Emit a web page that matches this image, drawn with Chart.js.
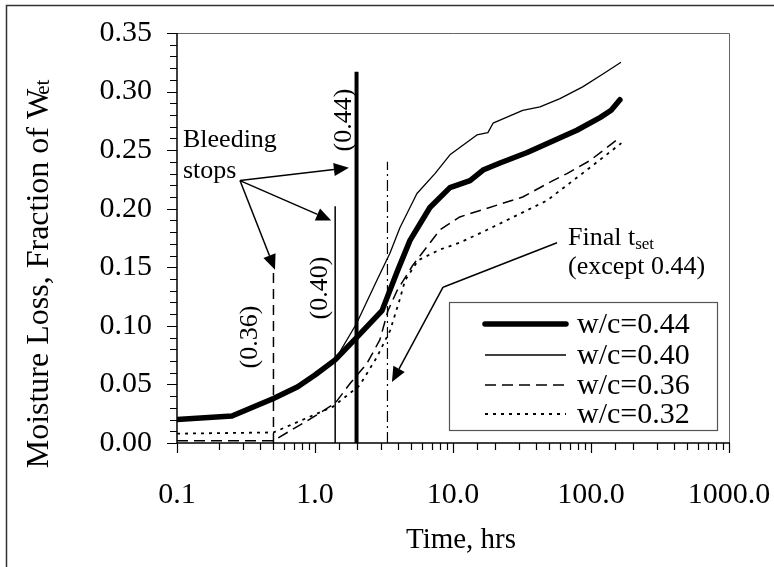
<!DOCTYPE html>
<html>
<head>
<meta charset="utf-8">
<script src="https://cdn.jsdelivr.net/npm/chart.js@4.4.0/dist/chart.umd.min.js"></script>
<style>
  html, body { margin: 0; padding: 0; background: #fff; }
</style>
</head>
<body>
<canvas id="grafico" width="774" height="567"></canvas>
<script>
// valores (tempo em horas, perda como fração de W_et)
const time044 = [0.1, 0.25, 0.5, 0.75, 1.0, 1.4, 2.0, 3.06, 3.93, 4.88, 6.8, 9.5, 13.3, 16.5, 21.9, 34.5, 79, 117, 140, 162];
const loss044 = [0.020, 0.023, 0.038, 0.048, 0.058, 0.071, 0.090, 0.113, 0.146, 0.173, 0.201, 0.218, 0.224, 0.233, 0.239, 0.248, 0.267, 0.278, 0.284, 0.293];

const time040 = [0.1, 0.25, 0.5, 0.75, 1.0, 1.4, 2.0, 2.81, 3.49, 4.13, 5.48, 7.4, 9.5, 14.9, 17.9, 19.5, 32, 42.7, 59.6, 87, 122, 165];
const loss040 = [0.020, 0.023, 0.038, 0.048, 0.058, 0.071, 0.102, 0.139, 0.162, 0.184, 0.213, 0.230, 0.246, 0.263, 0.265, 0.273, 0.284, 0.287, 0.294, 0.304, 0.315, 0.325];

const time036 = [0.1, 0.5, 0.97, 1.4, 1.8, 2.38, 2.95, 3.38, 3.93, 5.13, 8.05, 11.2, 32, 53, 67, 98, 155];
const loss036 = [0.002, 0.002, 0.022, 0.034, 0.051, 0.068, 0.088, 0.113, 0.130, 0.152, 0.182, 0.193, 0.210, 0.224, 0.230, 0.241, 0.259];

const time032 = [0.1, 0.5, 1.35, 2.1, 2.8, 3.5, 4.1, 4.5, 5.6, 8.0, 11.2, 17.7, 48, 98, 166];
const loss032 = [0.008, 0.009, 0.031, 0.049, 0.073, 0.096, 0.122, 0.139, 0.156, 0.165, 0.171, 0.182, 0.207, 0.235, 0.256];

const seriesLabels = ['w/c=0.44', 'w/c=0.40', 'w/c=0.36', 'w/c=0.32'];

// fim da exsudação (0.36, 0.40, 0.44) e t_set final
const bleedTimes = [0.5, 1.4, 2.0];
const bleedTops  = [0.152, 0.202, 0.317];
const setTimes = [3.35];
const setTops  = [0.240];

const xTickLabels = ['0.1', '1.0', '10.0', '100.0', '1000.0'];
const yTickLabels = ['0.00', '0.05', '0.10', '0.15', '0.20', '0.25', '0.30', '0.35'];

const FONTE = "'Liberation Serif', 'Times New Roman', serif";

// estilos de cada curva
const estilos = [
  { w: 5.5, dash: [] },
  { w: 1.3, dash: [] },
  { w: 1.5, dash: [11, 6] },
  { w: 1.8, dash: [3, 5] }
];

const pts = (xs, ys) => xs.map((x, i) => ({ x: x, y: ys[i] }));
const series = [pts(time044, loss044), pts(time040, loss040), pts(time036, loss036), pts(time032, loss032)];

const datasets = series.map((d, i) => ({
  label: seriesLabels[i],
  data: d,
  borderColor: '#000',
  borderWidth: estilos[i].w,
  borderDash: estilos[i].dash,
  borderJoinStyle: 'round',
  borderCapStyle: i === 0 ? 'round' : 'butt',
  pointRadius: 0,
  showLine: true,
  tension: 0
}));

// linhas verticais
const vertEstilos = [
  { w: 1.5, dash: [10, 6] },
  { w: 1.5, dash: [] },
  { w: 4, dash: [] }
];
bleedTimes.forEach((t, i) => {
  datasets.push({
    data: [{ x: t, y: 0 }, { x: t, y: bleedTops[i] }],
    borderColor: '#000', borderWidth: vertEstilos[i].w, borderDash: vertEstilos[i].dash,
    pointRadius: 0, showLine: true
  });
});
setTimes.forEach((t, i) => {
  datasets.push({
    data: [{ x: t, y: 0 }, { x: t, y: setTops[i] }],
    borderColor: '#000', borderWidth: 1.2, borderDash: [11, 4, 2, 4],
    pointRadius: 0, showLine: true
  });
});

// anotações (em unidades dos dados)
const setaBleedDe = [0.286, 0.224];
const setaBleedPara = [[1.76, 0.235], [1.31, 0.190], [0.513, 0.148]];
const setaFinal = [[56.7, 0.171], [8.47, 0.133], [3.61, 0.052]];

const ehDecada = v => Math.abs(Math.log10(v) - Math.round(Math.log10(v))) < 1e-6;
const ehMaiorY = v => Math.abs(v * 20 - Math.round(v * 20)) < 1e-6;

function seta(ctx, x1, y1, x2, y2) {
  const ang = Math.atan2(y2 - y1, x2 - x1);
  const L = 15, W = 6.5;
  const bx = x2 - L * Math.cos(ang), by = y2 - L * Math.sin(ang);
  ctx.beginPath();
  ctx.moveTo(x1, y1);
  ctx.lineTo(bx, by);
  ctx.stroke();
  ctx.beginPath();
  ctx.moveTo(x2, y2);
  ctx.lineTo(bx + W * Math.sin(ang), by - W * Math.cos(ang));
  ctx.lineTo(bx - W * Math.sin(ang), by + W * Math.cos(ang));
  ctx.closePath();
  ctx.fill();
}

function textoVertical(ctx, txt, x, y, size) {
  ctx.save();
  ctx.translate(x, y);
  ctx.rotate(-Math.PI / 2);
  ctx.font = size + 'px ' + FONTE;
  ctx.textAlign = 'center';
  ctx.textBaseline = 'middle';
  ctx.fillText(txt, 0, 0);
  ctx.restore();
}

const desenhos = {
  id: 'desenhos',
  beforeDraw(chart) {
    const ctx = chart.ctx;
    ctx.save();
    ctx.fillStyle = '#fff';
    ctx.fillRect(0, 0, chart.width, chart.height);
    ctx.restore();
  },
  afterDraw(chart) {
    const ctx = chart.ctx;
    const xs = chart.scales.x, ys = chart.scales.y;
    const a = chart.chartArea;
    const P = (x, y) => [xs.getPixelForValue(x), ys.getPixelForValue(y)];
    ctx.save();
    ctx.strokeStyle = '#000';
    ctx.fillStyle = '#000';
    ctx.setLineDash([]);

    // moldura
    ctx.lineWidth = 1;
    ctx.strokeStyle = '#666';
    ctx.beginPath();
    ctx.moveTo(a.left, a.top + 0.5);
    ctx.lineTo(a.right + 0.5, a.top + 0.5);
    ctx.lineTo(a.right + 0.5, a.bottom);
    ctx.stroke();
    ctx.strokeStyle = '#000';
    ctx.lineWidth = 1.5;
    ctx.beginPath();
    ctx.moveTo(a.left, a.top);
    ctx.lineTo(a.left, a.bottom);
    ctx.lineTo(a.right + 1, a.bottom);
    ctx.stroke();

    // marcas dos eixos
    ctx.lineWidth = 1.2;
    ctx.beginPath();
    xs.ticks.forEach(t => {
      const px = Math.round(xs.getPixelForValue(t.value)) + 0.5;
      const len = ehDecada(t.value) ? 10 : 7;
      ctx.moveTo(px, a.bottom);
      ctx.lineTo(px, a.bottom + len);
    });
    ys.ticks.forEach(t => {
      const py = Math.round(ys.getPixelForValue(t.value)) + 0.5;
      const len = ehMaiorY(t.value) ? 10 : 7;
      ctx.moveTo(a.left, py);
      ctx.lineTo(a.left - len, py);
    });
    ctx.stroke();

    // setas
    ctx.lineWidth = 1.5;
    const o = P(setaBleedDe[0], setaBleedDe[1]);
    setaBleedPara.forEach(p => {
      const d = P(p[0], p[1]);
      seta(ctx, o[0], o[1], d[0], d[1]);
    });
    const f0 = P(setaFinal[0][0], setaFinal[0][1]);
    const f1 = P(setaFinal[1][0], setaFinal[1][1]);
    const f2 = P(setaFinal[2][0], setaFinal[2][1]);
    ctx.beginPath();
    ctx.moveTo(f0[0], f0[1]);
    ctx.lineTo(f1[0], f1[1]);
    ctx.stroke();
    seta(ctx, f1[0], f1[1], f2[0], f2[1]);

    // textos
    ctx.textAlign = 'left';
    ctx.textBaseline = 'alphabetic';
    ctx.font = '26px ' + FONTE;
    ctx.fillText('Bleeding', 183, 147);
    ctx.fillText('stops', 183, 178);
    ctx.fillText('Final t', 568, 245);
    let w = ctx.measureText('Final t').width;
    ctx.font = '17px ' + FONTE;
    ctx.fillText('set', 568 + w, 249);
    ctx.font = '26px ' + FONTE;
    ctx.fillText('(except 0.44)', 568, 274);

    textoVertical(ctx, '(0.36)', 250, 337, 26);
    textoVertical(ctx, '(0.40)', 320, 288, 26);
    textoVertical(ctx, '(0.44)', 344, 120, 26);

    // títulos dos eixos
    ctx.font = '29px ' + FONTE;
    ctx.textAlign = 'center';
    ctx.textBaseline = 'middle';
    ctx.fillText('Time, hrs', 461, 540);

    ctx.save();
    ctx.translate(37, 274);
    ctx.rotate(-Math.PI / 2);
    ctx.font = '32px ' + FONTE;
    const t1 = 'Moisture Loss, Fraction of W';
    const w1 = ctx.measureText(t1).width;
    ctx.font = '21px ' + FONTE;
    const w2 = ctx.measureText('et').width;
    const x0 = -(w1 + w2 - 6) / 2;
    ctx.textAlign = 'left';
    ctx.textBaseline = 'alphabetic';
    ctx.font = '32px ' + FONTE;
    ctx.fillText(t1, x0, 11);
    ctx.font = '21px ' + FONTE;
    ctx.fillText('et', x0 + w1 - 6, 12);
    ctx.restore();

    // legenda
    const lx = 449, ly = 302, lw = 268, lh = 128;
    ctx.fillStyle = '#fff';
    ctx.fillRect(lx, ly, lw, lh);
    ctx.strokeStyle = '#555';
    ctx.lineWidth = 1.2;
    ctx.strokeRect(lx + 0.5, ly + 0.5, lw, lh);
    const linhas = [324, 355, 385, 414];
    ctx.fillStyle = '#000';
    ctx.strokeStyle = '#000';
    ctx.font = '30px ' + FONTE;
    ctx.textAlign = 'left';
    ctx.textBaseline = 'middle';
    seriesLabels.forEach((lab, i) => {
      const ds = chart.data.datasets[i];
      ctx.lineWidth = ds.borderWidth;
      ctx.setLineDash(ds.borderDash);
      ctx.lineCap = i === 0 ? 'round' : 'butt';
      ctx.beginPath();
      ctx.moveTo(485, linhas[i]);
      ctx.lineTo(566, linhas[i]);
      ctx.stroke();
      ctx.setLineDash([]);
      ctx.fillText(lab, 577, linhas[i] + 1);
    });

    // borda externa (só esquerda e topo aparecem)
    ctx.strokeStyle = '#333';
    ctx.lineWidth = 1.5;
    ctx.beginPath();
    ctx.moveTo(6.5, chart.height);
    ctx.lineTo(6.5, 5.5);
    ctx.lineTo(chart.width, 5.5);
    ctx.stroke();
    ctx.restore();
  }
};

new Chart(document.getElementById('grafico'), {
  type: 'scatter',
  data: { datasets: datasets },
  options: {
    responsive: false,
    animation: false,
    devicePixelRatio: 1,
    layout: { padding: { left: 0, top: 33, right: 45, bottom: 0 } },
    plugins: { legend: { display: false }, tooltip: { enabled: false } },
    scales: {
      x: {
        type: 'logarithmic',
        min: 0.1, max: 1000,
        grid: { display: false, drawTicks: false },
        border: { display: false },
        ticks: {
          autoSkip: false, maxRotation: 0, padding: 34,
          color: '#000', font: { family: FONTE, size: 30 },
          callback: v => ehDecada(v) ? xTickLabels[Math.round(Math.log10(v)) + 1] : ''
        },
        afterFit: s => { s.height = 124; s.paddingLeft = 0; s.paddingRight = 0; }
      },
      y: {
        min: 0, max: 0.35,
        grid: { display: false, drawTicks: false },
        border: { display: false },
        ticks: {
          stepSize: 0.01, autoSkip: false, padding: 25,
          color: '#000', font: { family: FONTE, size: 30 },
          callback: v => ehMaiorY(v) ? yTickLabels[Math.round(v * 20)] : ''
        },
        afterFit: s => { s.width = 177; s.paddingTop = 0; s.paddingBottom = 0; }
      }
    }
  },
  plugins: [desenhos]
});
</script>
</body>
</html>
